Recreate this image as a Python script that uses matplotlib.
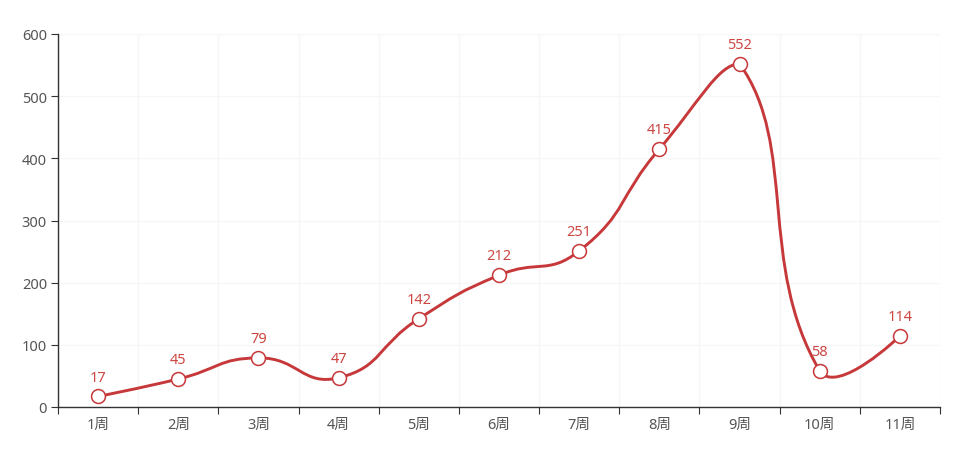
import numpy as np
import matplotlib.pyplot as plt
from matplotlib.path import Path
from matplotlib.patches import PathPatch

plt.rcParams['font.family'] = ['Noto Sans', 'Noto Sans CJK SC', 'DejaVu Sans']

# data
weeks = ['1周', '2周', '3周', '4周', '5周', '6周', '7周', '8周', '9周', '10周', '11周']
counts = [17, 45, 79, 47, 142, 212, 251, 415, 552, 58, 114]

line_color = '#c6383a'
label_color = '#cc4744'
axis_color = '#333333'
grid_color = '#f6f6f6'

fig = plt.figure(figsize=(9.68, 4.56), dpi=100)
ax = fig.add_axes([58 / 968, 48 / 456, 882 / 968, 373 / 456])

x = np.arange(len(weeks))
y = np.array(counts, dtype=float)
ax.set_xlim(-0.5, len(weeks) - 0.5)
ax.set_ylim(0, 600)


def smooth_path(xs, ys, sx, sy, smooth=0.5):
    # echarts-like bezier smoothing, done in screen-ish units
    px = xs * sx
    py = ys * sy
    lo = np.array([px.min(), py.min()])
    hi = np.array([px.max(), py.max()])
    pts = np.column_stack([px, py])
    n = len(pts)
    cps_in = [None] * n
    cps_out = [None] * n
    for i in range(n):
        p = pts[i]
        if i == 0 or i == n - 1:
            cps_in[i] = p
            cps_out[i] = p
            continue
        prev, nxt = pts[i - 1], pts[i + 1]
        v = nxt - prev
        d0 = np.hypot(*(p - prev))
        d1 = np.hypot(*(p - nxt))
        r = d1 / (d0 + d1)
        cps_in[i] = np.clip(p - v * smooth * (1 - r), lo, hi)
        cps_out[i] = np.clip(p + v * smooth * r, lo, hi)
    verts = [pts[0]]
    codes = [Path.MOVETO]
    for i in range(n - 1):
        verts += [cps_out[i], cps_in[i + 1], pts[i + 1]]
        codes += [Path.CURVE4] * 3
    verts = np.array(verts)
    verts[:, 0] /= sx
    verts[:, 1] /= sy
    return Path(verts, codes)


path = smooth_path(x, y, 80.2, 373 / 600)
ax.add_patch(PathPatch(path, facecolor='none', edgecolor=line_color, lw=2.1, zorder=3))
ax.plot(x, y, 'o', ms=10, mfc='white', mec=line_color, mew=1.1, zorder=4)

for xi, yi in zip(x, counts):
    ax.annotate(str(yi), (xi, yi), xytext=(0, 8.5), textcoords='offset points',
                ha='center', va='bottom', color=label_color, fontsize=10.5, zorder=5)

# axes styling
for s in ['top', 'right']:
    ax.spines[s].set_visible(False)
for s in ['left', 'bottom']:
    ax.spines[s].set_color(axis_color)
    ax.spines[s].set_linewidth(1)

ax.set_yticks(range(0, 601, 100))
ax.tick_params(axis='y', colors=axis_color, labelcolor='#555555', length=5,
               labelsize=10.5, pad=3)
ax.set_xticks(np.arange(-0.5, len(weeks), 1))
ax.set_xticklabels([])
ax.set_xticks(x, minor=True)
ax.set_xticklabels(weeks, minor=True)
ax.tick_params(axis='x', which='major', colors=axis_color, length=5)
ax.tick_params(axis='x', which='minor', length=0, labelcolor='#555555',
               labelsize=10.5, pad=7)

ax.grid(True, which='major', color=grid_color, lw=1, zorder=0)
ax.set_axisbelow(True)

plt.savefig('out.png', dpi=100)
